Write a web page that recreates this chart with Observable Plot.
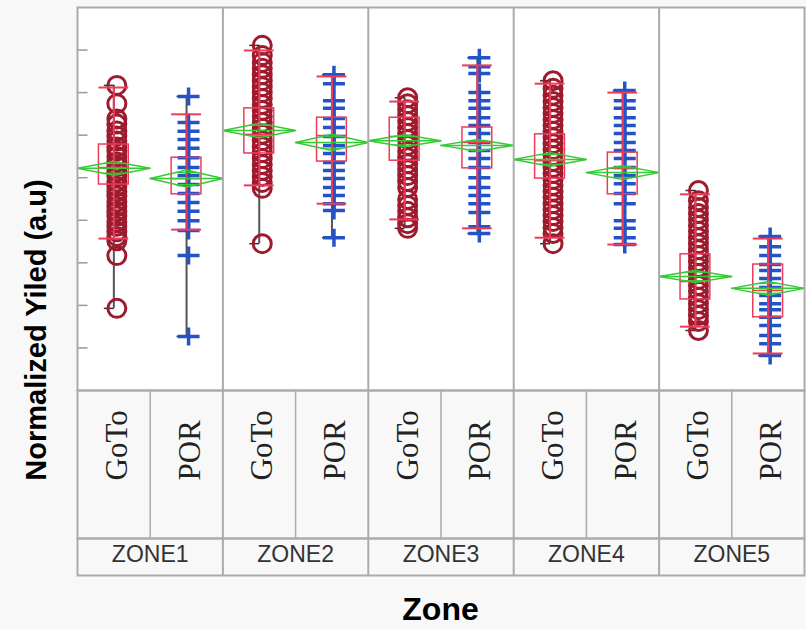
<!DOCTYPE html>
<html>
<head>
<meta charset="utf-8">
<script src="https://cdn.jsdelivr.net/npm/d3@7"></script>
<script src="https://cdn.jsdelivr.net/npm/@observablehq/plot@0.6"></script>
<style>
  html, body { margin: 0; padding: 0; background: #f8f8f8; }
  #wrap { position: relative; width: 806px; height: 629px; overflow: hidden; background: #f8f8f8; font-family: "Liberation Sans", Arial, sans-serif; }
  #chart { position: absolute; left: 0; top: 0; }
  #sub { position: absolute; left: 0; top: 390px; }
  #zonerow { position: absolute; left: 0; top: 538px; }
  #ylab { position: absolute; left: 36px; top: 330px; transform: translate(-50%, -50%) rotate(-90deg); font-weight: bold; font-size: 29px; white-space: nowrap; color: #000; }
  #xlab { position: absolute; left: 77px; width: 727px; top: 593px; text-align: center; font-weight: bold; font-size: 32px; line-height: 32px; color: #000; }
</style>
</head>
<body>
<div id="wrap">
  <div id="chart"></div>
  <div id="sub"></div>
  <div id="zonerow"></div>
  <div id="ylab">Normalized Yiled (a.u)</div>
  <div id="xlab">Zone</div>
</div>
<script>
// ---------------- data ----------------
const zones = ["ZONE1", "ZONE2", "ZONE3", "ZONE4", "ZONE5"];
const groups = ["GoTo", "POR"];
const yTicks = [1, 2, 3, 4, 5, 6, 7, 8];

// individual normalized yields
const zone1GoTo = [7.17, 6.74, 6.38, 6.26, 6.10, 5.98, 5.86, 5.72, 5.63, 5.50, 5.37, 5.27, 5.14, 5.04, 4.90, 4.80, 4.67, 4.57, 4.43, 4.33, 4.20, 4.10, 3.96, 3.86, 3.73, 3.62, 3.52, 3.17, 1.93];
const zone1POR  = [6.91, 6.30, 6.09, 5.90, 5.69, 5.47, 5.24, 5.05, 4.84, 4.63, 4.42, 4.21, 3.99, 3.76, 3.17, 1.27];
const zone2GoTo = [8.11, 7.87, 7.71, 7.57, 7.42, 7.28, 7.14, 7.00, 6.86, 6.72, 6.58, 6.44, 6.30, 6.16, 6.02, 5.87, 5.73, 5.59, 5.45, 5.31, 5.17, 5.03, 4.89, 4.75, 3.45];
const zone2POR  = [7.42, 7.21, 6.81, 6.63, 6.39, 6.18, 5.97, 5.76, 5.57, 5.36, 5.17, 4.98, 4.77, 4.58, 4.39, 4.23, 3.59];
const zone3GoTo = [6.88, 6.74, 6.60, 6.46, 6.32, 6.18, 6.04, 5.90, 5.76, 5.62, 5.47, 5.33, 5.19, 5.05, 4.91, 4.77, 4.49, 4.35, 4.21, 4.06, 3.92, 3.81];
const zone3POR  = [7.82, 7.61, 7.45, 7.00, 6.81, 6.63, 6.41, 6.23, 6.04, 5.83, 5.64, 5.45, 5.24, 5.00, 4.77, 4.58, 4.39, 4.18, 3.85, 3.69];
const zone4GoTo = [7.28, 7.10, 6.94, 6.79, 6.65, 6.51, 6.37, 6.23, 6.09, 5.94, 5.80, 5.66, 5.52, 5.38, 5.24, 5.10, 4.96, 4.82, 4.68, 4.54, 4.39, 4.25, 4.11, 3.97, 3.83, 3.69, 3.45];
const zone4POR  = [7.05, 6.81, 6.63, 6.41, 6.23, 6.04, 5.83, 5.64, 5.45, 5.24, 5.05, 4.86, 4.63, 4.39, 3.99, 3.81, 3.59, 3.43];
const zone5GoTo = [4.70, 4.46, 4.30, 4.16, 4.02, 3.88, 3.74, 3.59, 3.45, 3.31, 3.17, 3.03, 2.89, 2.75, 2.61, 2.47, 2.33, 2.19, 2.04, 1.90, 1.76, 1.62, 1.41];
const zone5POR  = [3.62, 3.38, 3.17, 2.96, 2.82, 2.63, 2.42, 2.23, 2.04, 1.90, 1.72, 1.53, 1.29, 1.10, 0.82];

// summary statistics, order: Z1 GoTo, Z1 POR, Z2 GoTo, Z2 POR, ... Z5 POR
const p90    = [7.12, 6.49, 7.99, 7.38, 6.79, 7.64, 7.21, 7.00, 4.61, 3.57];
const p10    = [3.57, 3.78, 4.82, 4.39, 4.02, 3.81, 3.59, 3.43, 1.50, 0.87];
const q3     = [5.78, 5.47, 6.63, 6.41, 6.41, 6.18, 6.02, 5.59, 3.20, 2.96];
const q1     = [4.84, 4.61, 5.57, 5.38, 5.40, 5.22, 4.98, 4.61, 2.14, 1.72];
const median = [5.24, 4.98, 6.02, 5.99, 5.97, 5.83, 5.40, 5.22, 2.56, 2.35];
const mean   = [5.22, 4.98, 6.11, 5.83, 5.87, 5.76, 5.43, 5.12, 2.68, 2.40];
const ciHalf = [0.16, 0.20, 0.17, 0.19, 0.14, 0.14, 0.16, 0.16, 0.14, 0.16];

// ---------------- tables ----------------
const allValues = [zone1GoTo, zone1POR, zone2GoTo, zone2POR, zone3GoTo, zone3POR, zone4GoTo, zone4POR, zone5GoTo, zone5POR];
const cells = zones.flatMap((zone, k) => groups.map((group, j) => ({zone, group, i: 2 * k + j, xc: 2 * k + j + 0.5})));
cells.forEach((c, n) => {
  c.values = allValues[n];
  c.p10 = p10[n]; c.p90 = p90[n]; c.q1 = q1[n]; c.q3 = q3[n];
  c.median = median[n]; c.mean = mean[n]; c.ci = ciHalf[n];
  c.lo = d3.min(c.values); c.hi = d3.max(c.values);
});
const HB = 0.205; // half box width (fraction of a group column)
cells.forEach(c => { c.bx1 = c.xc - HB; c.bx2 = c.xc + HB; });

const gotoPts = cells.filter(c => c.group === "GoTo").flatMap(c => c.values.map(v => ({x: c.xc, v})));
const porPts = cells.filter(c => c.group === "POR").flatMap(c => c.values.map(v => ({x: c.xc, v})));
const whiskerEnds = cells.flatMap(c => [{x: c.xc, y: c.lo}, {x: c.xc, y: c.hi}]);
const caps = cells.flatMap(c => [{x1: c.bx1, x2: c.bx2, y: c.p10}, {x1: c.bx1, x2: c.bx2, y: c.p90}]);
const diamonds = cells.flatMap(c => [
  [c.i, c.mean], [c.xc, c.mean + c.ci], [c.i + 1, c.mean], [c.xc, c.mean - c.ci], [c.i, c.mean]
].map(([x, y]) => ({id: c.i, x, y})));
const k2 = Math.SQRT1_2;
const overlap = cells.flatMap(c => [c.mean + c.ci * k2, c.mean - c.ci * k2].map(y => ({
  y, x1: c.xc - 0.5 * (1 - k2), x2: c.xc + 0.5 * (1 - k2)
})));

// ---------------- symbols ----------------
const plusSym = {draw(ctx) { ctx.moveTo(-11, 0); ctx.lineTo(11, 0); ctx.moveTo(0, -9); ctx.lineTo(0, 9); }};
const leftTick = {draw(ctx) { ctx.moveTo(-10, 0); ctx.lineTo(0, 0); }};
const rightTick = {draw(ctx) { ctx.moveTo(0, 0); ctx.lineTo(10, 0); }};

const RED = "#ee3b58", GREEN = "#36c936", DOT = "#9d1b2e", BLUE = "#2453c6", GRID = "#ababab";
const common = {width: 806, marginLeft: 77, marginRight: 2, style: {background: "transparent", overflow: "visible"}};

// ---------------- main chart ----------------
const chart = Plot.plot({
  ...common,
  height: 390, marginTop: 7, marginBottom: 0,
  x: {domain: [0, 10], axis: null},
  y: {domain: [0, 9], axis: null},
  marks: [
    Plot.frame({fill: "white", stroke: "none"}),
    Plot.dot(yTicks, {x: 0, y: d => d, symbol: rightTick, stroke: "#9a9a9a", strokeWidth: 1.5, fill: "none"}),
    // outlier whiskers
    Plot.ruleX(cells, {x: "xc", y1: "lo", y2: "hi", stroke: "#555", strokeWidth: 2}),
    Plot.dot(whiskerEnds, {x: "x", y: "y", symbol: leftTick, stroke: "#333", strokeWidth: 1.5, fill: "none"}),
    // points
    Plot.dot(gotoPts, {x: "x", y: "v", r: 9, fill: "none", stroke: DOT, strokeWidth: 3, dx: 3}),
    Plot.dot(porPts, {x: "x", y: "v", symbol: plusSym, fill: "none", stroke: BLUE, strokeWidth: 3.5, dx: 2}),
    // quantile box
    Plot.ruleX(cells, {x: "xc", y1: "p10", y2: "p90", stroke: RED, strokeWidth: 2}),
    Plot.ruleY(caps, {y: "y", x1: "x1", x2: "x2", stroke: RED, strokeWidth: 2}),
    Plot.rect(cells, {x1: "bx1", x2: "bx2", y1: "q1", y2: "q3", fill: "none", stroke: RED, strokeWidth: 1.5}),
    Plot.ruleY(cells, {y: "median", x1: "bx1", x2: "bx2", stroke: RED, strokeWidth: 1.5}),
    // means diamonds
    Plot.line(diamonds, {x: "x", y: "y", z: "id", stroke: GREEN, strokeWidth: 1.5}),
    Plot.ruleY(cells, {y: "mean", x1: "i", x2: d => d.i + 1, stroke: GREEN, strokeWidth: 1.5}),
    Plot.ruleY(overlap, {y: "y", x1: "x1", x2: "x2", stroke: GREEN, strokeWidth: 1.2}),
    // zone dividers + frame
    Plot.ruleX([2, 4, 6, 8], {stroke: GRID, strokeWidth: 2}),
    Plot.frame({stroke: GRID, strokeWidth: 2})
  ]
});
document.getElementById("chart").append(chart);

// ---------------- group label row ----------------
const sub = Plot.plot({
  ...common,
  height: 148, marginTop: 0, marginBottom: 0,
  x: {domain: [0, 10], axis: null},
  marks: [
    Plot.ruleX([1, 3, 5, 7, 9], {stroke: GRID, strokeWidth: 1.5}),
    Plot.ruleX([2, 4, 6, 8], {stroke: GRID, strokeWidth: 2}),
    Plot.text(cells, {x: "xc", text: "group", rotate: -90, frameAnchor: "top", dy: 90, dx: -9, textAnchor: "start",
      fontFamily: "Liberation Serif, Times New Roman, serif", fontSize: 31, fill: "#222"}),
    Plot.frame({stroke: GRID, strokeWidth: 2})
  ]
});
document.getElementById("sub").append(sub);

// ---------------- zone label row ----------------
const zoneRow = Plot.plot({
  ...common,
  height: 37, marginTop: 0, marginBottom: 0,
  x: {domain: [0, 10], axis: null},
  marks: [
    Plot.ruleX([2, 4, 6, 8], {stroke: GRID, strokeWidth: 2}),
    Plot.text(zones, {x: (d, k) => 2 * k + 1, text: d => d, frameAnchor: "middle", dy: -2,
      fontFamily: "Liberation Sans, Arial, sans-serif", fontSize: 23, fill: "#333"}),
    Plot.frame({stroke: GRID, strokeWidth: 2})
  ]
});
document.getElementById("zonerow").append(zoneRow);
</script>
</body>
</html>
